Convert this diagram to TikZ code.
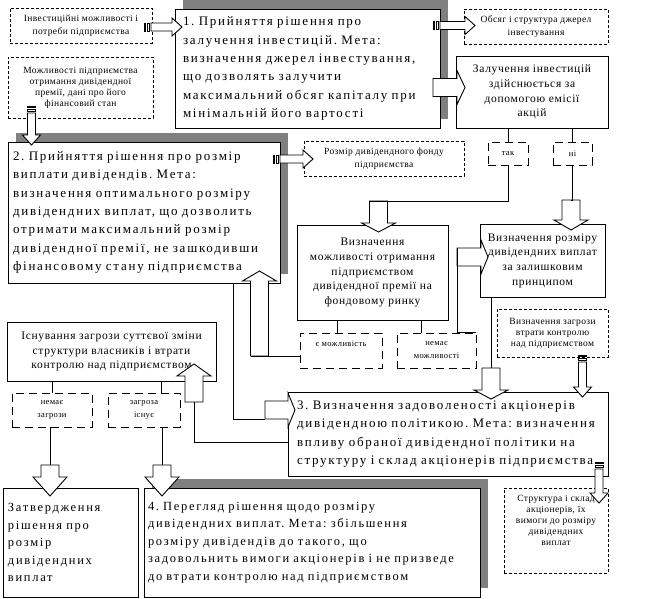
\documentclass[tikz,border=0pt]{standalone}
\usepackage{fontspec}
\setmainfont{Liberation Serif}
\newfontfamily\goalfnt[LetterSpace=13.5]{Liberation Serif}
\newfontfamily\midfnt[LetterSpace=6]{Liberation Serif}
\newfontfamily\notefnt[LetterSpace=4]{Liberation Serif}
\usetikzlibrary{shadows}

\definecolor{shade}{RGB}{128,128,128}
\newcommand\goalsize{\goalfnt\fontsize{13}{18.3}\selectfont\frenchspacing}
\newcommand\goalsmall{\goalfnt\fontsize{12.5}{17.5}\selectfont\frenchspacing}
\newcommand\midsize{\midfnt\fontsize{11.5}{14.7}\selectfont}
\newcommand\notesize{\notefnt\fontsize{9.5}{11}\selectfont}
\newcommand\tagsize{\notefnt\fontsize{8.5}{13}\selectfont}

\tikzset{
  box/.style={draw, fill=white, line width=.9pt, inner sep=4pt},
  goalbox/.style={box, font=\goalsize, align=left},
  midbox/.style={box, font=\midsize, align=center},
  dotbox/.style={box, dash pattern=on 3pt off 2pt, font=\notesize, align=center},
  dashbox/.style={box, dash pattern=on 8pt off 5pt, font=\tagsize, align=center},
  shadowed/.style={drop shadow={shadow xshift=8pt, shadow yshift=9pt, fill=shade, opacity=1}},
  arrowbody/.style={draw, fill=white, line width=.9pt},
  link/.style={line width=.9pt}
}

\newcommand\blockarrow[5]{%
  \begin{scope}[shift={#2}, rotate=#3]
    \draw[arrowbody] (0,-9) -- ({#4-#5},-9) -- ({#4-#5},-17) -- (#4,0) -- ({#4-#5},17) -- ({#4-#5},9) -- (0,9) -- cycle;
    \coordinate (#1) at (0,0);
    \coordinate (#1-l) at (0,-9);
    \coordinate (#1-r) at (0,9);
  \end{scope}}
\newcommand\stripedarrow[3]{%
  \begin{scope}[shift={#1}, rotate=#2]
    \draw[arrowbody, line width=.6pt] (0,-4) rectangle (1.5,4) (3,-4) rectangle (5.5,4);
    \draw[arrowbody] (7,-4) -- ({#3-10},-4) -- ({#3-10},-9) -- (#3,0) -- ({#3-10},9) -- ({#3-10},4) -- (7,4) -- cycle;
  \end{scope}}

\begin{document}
\begin{tikzpicture}[x=1pt, y=-1pt]
  \useasboundingbox (0,0) rectangle (645,598);

  \node[goalbox, shadowed, minimum width=265pt, minimum height=119pt, inner xsep=8pt, text width=249pt] (dec1) at (307.5,68.5)
    {1. Прийняття рішення про\\залучення інвестицій. Мета:\\визначення джерел інвестування,\\що дозволять залучити\\максимальний обсяг капіталу при\\мінімальній його вартості};
  \node[goalbox, shadowed, minimum width=272pt, minimum height=141pt, inner xsep=5pt, text width=262pt] (dec2) at (144,212.5)
    {2. Прийняття рішення про розмір\\виплати дивідендів. Мета:\\визначення оптимального розміру\\дивідендних виплат, що дозволить\\отримати максимальний розмір\\дивідендної премії, не зашкодивши\\фінансовому стану підприємства};
  \node[goalbox, minimum width=320pt, minimum height=84pt, inner xsep=9pt, text width=302pt] (dec3) at (448,434)
    {3. Визначення задоволеності акціонерів\\дивідендною політикою. Мета: визначення\\впливу обраної дивідендної політики на\\структуру і склад акціонерів підприємства};
  \node[goalbox, shadowed, font=\goalsmall, minimum width=336pt, minimum height=109pt, inner xsep=4pt, text width=328pt] (dec4) at (312,542.5)
    {4. Перегляд рішення щодо розміру\\дивідендних виплат. Мета: збільшення\\розміру дивідендів до такого, що\\задовольнить вимоги акціонерів і не призведе\\до втрати контролю над підприємством};
  \node[goalbox, font=\goalsmall, minimum width=135pt, minimum height=109pt, inner xsep=5pt, text width=125pt] (zatv) at (70.5,542.5)
    {Затвердження\\рішення про\\розмір\\дивідендних\\виплат};

  \node[midbox, minimum width=152pt, minimum height=72pt] (emis) at (532,92)
    {Залучення інвестицій\\здійснюється за\\допомогою емісії\\акцій};
  \node[midbox, minimum width=151pt, minimum height=95pt] (mozhl) at (372.5,272.5)
    {Визначення\\можливості отримання\\підприємством\\дивідендної премії на\\фондовому ринку};
  \node[midbox, minimum width=125pt, minimum height=73pt] (zal) at (542.5,260.5)
    {Визначення розміру\\дивідендних виплат\\за залишковим\\принципом};
  \node[midbox, minimum width=209pt, minimum height=59pt] (isnuv) at (111.5,351.5)
    {Існування загрози суттєвої зміни\\структури власників і втрати\\контролю над підприємством};

  \node[dotbox, minimum width=142pt, minimum height=35pt] (inv) at (81,25.5)
    {Інвестиційні можливості і\\[2pt]потреби підприємства};
  \node[dotbox, minimum width=144pt, minimum height=35pt] (obs) at (536,26.5)
    {Обсяг і структура джерел\\[2pt]інвестування};
  \node[dotbox, minimum width=145pt, minimum height=61pt] (mozh) at (80.5,87.5)
    {Можливості підприємства\\отримання дивідендної\\премії, дані про його\\фінансовий стан};
  \node[dotbox, minimum width=160pt, minimum height=35pt] (fond) at (384,158.5)
    {Розмір дивідендного фонду\\[2pt]підприємства};
  \node[dotbox, minimum width=111pt, minimum height=48pt] (zagr) at (552.5,333)
    {Визначення загрози\\втрати контролю\\над підприємством};
  \node[dotbox, minimum width=104pt, minimum height=85pt] (sklad) at (556,530.5)
    {Структура і склад\\акціонерів, їх\\вимоги до розміру\\дивідендних\\виплат\\[10pt]\mbox{}};

  \node[dashbox, minimum width=40pt, minimum height=23pt] (tak) at (508,153.5) {так};
  \node[dashbox, minimum width=39pt, minimum height=23pt] (ni) at (572.5,153.5) {ні};
  \node[dashbox, minimum width=82pt, minimum height=35pt] (yem) at (341,350.5) {є можливість\\\mbox{}};
  \node[dashbox, minimum width=79pt, minimum height=35pt] (nemozh) at (436.5,350.5) {немає\\можливості};
  \node[dashbox, minimum width=80pt, minimum height=34pt] (nezagr) at (52,410) {немає\\загрози};
  \node[dashbox, minimum width=72pt, minimum height=34pt] (zagrisn) at (144,410) {загроза\\існує};

  \blockarrow{a1}{(433,87.5)}{0}{32}{8}
  \blockarrow{a2}{(378.5,201)}{-90}{31}{9}
  \blockarrow{a3}{(571,200)}{-90}{30}{10}
  \blockarrow{a4}{(457,257)}{0}{31}{7}
  \blockarrow{a5}{(491,368)}{-90}{31}{9}
  \blockarrow{a6}{(259.5,356)}{90}{85}{10}
  \blockarrow{a7}{(265,410)}{0}{30}{7}
  \blockarrow{a8}{(194,402)}{90}{38}{12}
  \blockarrow{a9}{(50,465)}{-90}{31}{19}
  \blockarrow{a10}{(162,465)}{-90}{31}{19}

  \stripedarrow{(144,27)}{0}{38}
  \stripedarrow{(433,25.5)}{0}{42}
  \stripedarrow{(31.5,106)}{-90}{39}
  \stripedarrow{(273,159)}{0}{40}
  \stripedarrow{(582.5,355)}{-90}{42}
  \stripedarrow{(599,462)}{-90}{41}

  \draw[link] (tak.north |- emis.south) -- (tak.north);
  \draw[link] (ni.north |- emis.south) -- (ni.north);
  \draw[link] (tak.south) |- (a2-r);
  \draw[link] (ni.south) |- (a3);
  \draw[link] ([xshift=-4pt]yem.north) -- +(0,-13);
  \draw[link] ([xshift=-15pt]nemozh.north) -- +(0,-13);
  \draw[link] (a6-l -| yem.west) -- (a6-l);
  \draw[link] (nemozh.north east) -| (a4-l);
  \draw[link] (a5 |- zal.south) -- (a5);
  \draw[link] ([xshift=89pt]dec2.south) |- (a7-r);
  \draw[link] ([yshift=-8pt]dec3.west) -| (a8);
  \draw[link] (nezagr.north |- isnuv.south) -- (nezagr.north);
  \draw[link] ([xshift=17pt]zagrisn.north) -- +(0,-12);
  \draw[link] (a9 |- nezagr.south) -- (a9);
  \draw[link] (a10 |- zagrisn.south) -- (a10);
\end{tikzpicture}
\end{document}
